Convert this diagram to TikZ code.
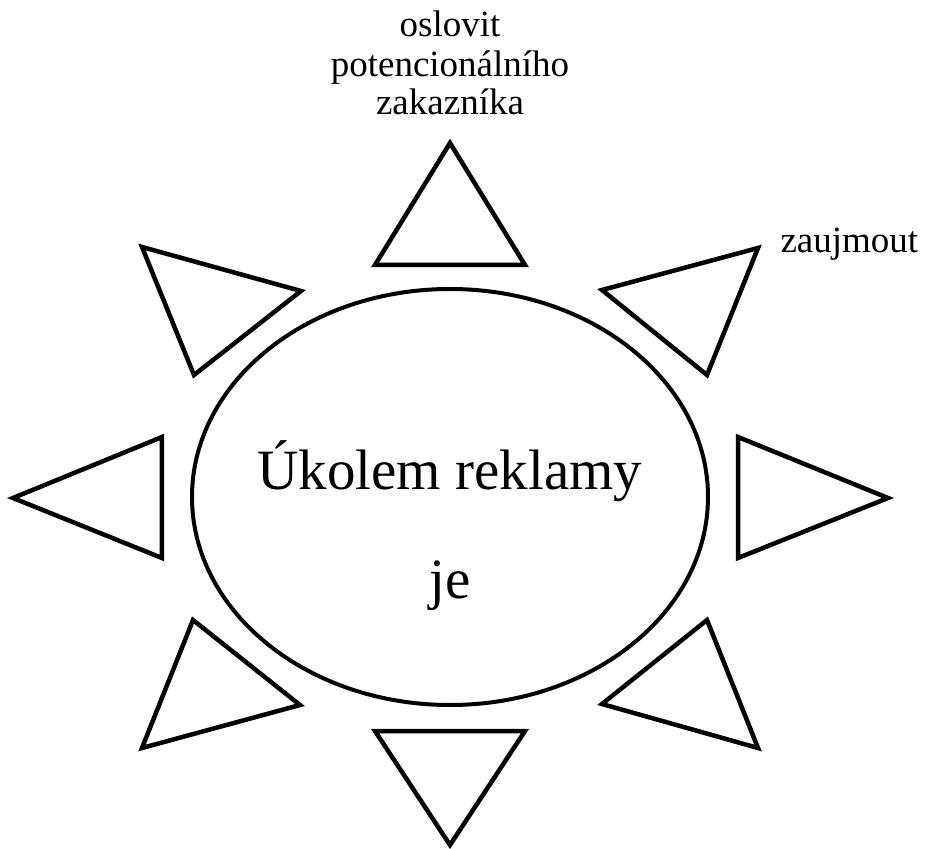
\documentclass[tikz,border=0pt]{standalone}
\usepackage{fontspec}
\setmainfont{Liberation Serif}
\begin{document}
\begin{tikzpicture}[x=1pt, y=1pt,
        ray/.style={line width=4.5pt, line join=miter},
        small/.style={font=\fontsize{37}{39}\selectfont},
        big/.style={font=\fontsize{57}{60}\selectfont}]
        \useasboundingbox (-450, -351) rectangle (475, 497);
        \draw[line width=4pt] (0, 0) ellipse [x radius = 258, y radius = 208];
        \draw[ray] (-75, 232) -- (0, 354) -- (75, 232) -- cycle;
        \draw[ray] (-75, -234) -- (0, -348) -- (75, -234) -- cycle;
        \draw[ray] (-288, 60) -- (-437, -1) -- (-288, -61) -- cycle;
        \draw[ray] (288, 60) -- (438, -1) -- (288, -61) -- cycle;
        \draw[ray] (-308, 250) -- (-149, 206) -- (-256, 122) -- cycle;
        \draw[ray] (152, 207) -- (308, 249) -- (257, 122) -- cycle;
        \draw[ray] (-257, -123) -- (-150, -208) -- (-308, -251) -- cycle;
        \draw[ray] (257, -123) -- (152, -207) -- (308, -251) -- cycle;
        \node[small, anchor=base] (oslovit) at (0, 460) {oslovit};
        \node[small, anchor=base] (potenc) at (0, 420) {potencionálního};
        \node[small, anchor=base] (zakaznik) at (0, 382) {zakazníka};
        \node[small, anchor=base west] (zaujmout) at (327, 244) {zaujmout};
        \node[big, anchor=base] (ukol) at (0, 7) {Úkolem reklamy};
        \node[big, anchor=base] (je) at (0, -101) {je};
    \end{tikzpicture}
\end{document}
